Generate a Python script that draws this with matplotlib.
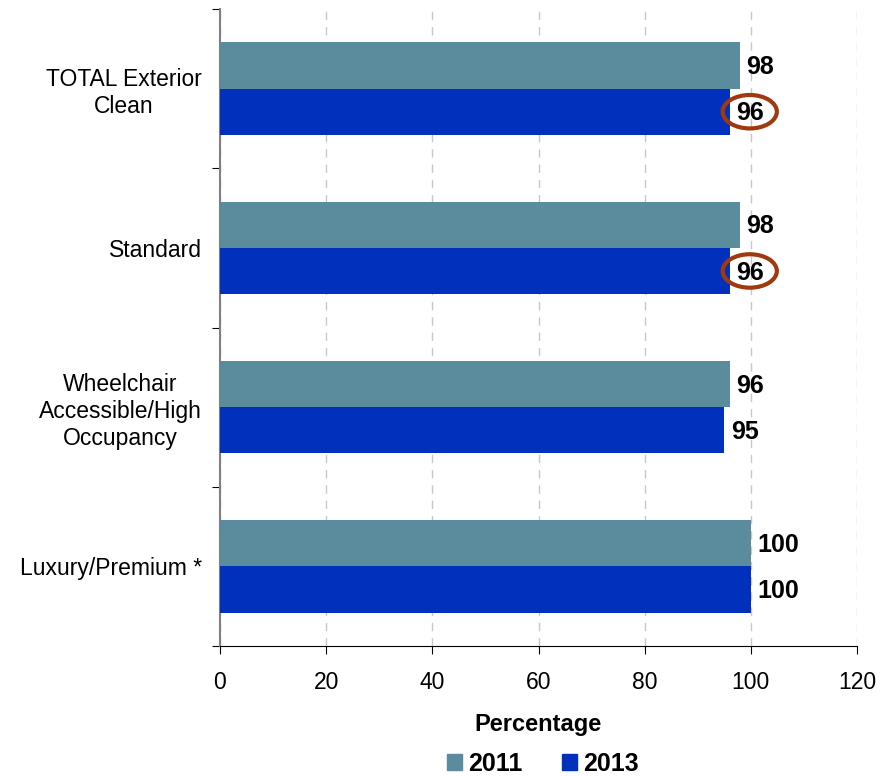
import matplotlib
matplotlib.use("Agg")
import matplotlib.pyplot as plt
from matplotlib.patches import Ellipse, Patch
import numpy as np

categories = ["TOTAL Exterior\nClean", "Standard", "Wheelchair\nAccessible/High\nOccupancy", "Luxury/Premium *"]
values_2011 = [98, 98, 96, 100]
values_2013 = [96, 96, 95, 100]
highlighted_2013 = [True, True, False, False]
series_labels = ["2011", "2013"]
xticks = [0, 20, 40, 60, 80, 100, 120]

color_2011 = "#5A8C9E"
color_2013 = "#0030BC"
ring_color = "#A0390E"

plt.rcParams["font.family"] = ["Liberation Sans", "DejaVu Sans"]

fig = plt.figure(figsize=(8.94, 7.76), dpi=100)
ax = fig.add_axes([220 / 894, 1 - 646 / 776, 637 / 894, 637 / 776])

n = len(categories)
ypos = np.arange(n)[::-1].astype(float)
h = 0.29

ax.barh(ypos + h / 2, values_2011, height=h, color=color_2011, zorder=3)
ax.barh(ypos - h / 2, values_2013, height=h, color=color_2013, zorder=3)

for y, v in zip(ypos, values_2011):
    ax.text(v + 1.2, y + h / 2 - 0.01, f"{v}", va="center", ha="left",
            fontsize=18, fontweight="bold", zorder=5)
for y, v, hl in zip(ypos, values_2013, highlighted_2013):
    ax.text(v + 1.2, y - h / 2 - 0.01, f"{v}", va="center", ha="left",
            fontsize=18, fontweight="bold", zorder=5)
    if hl:
        ax.add_patch(Ellipse((v + 3.8, y - h / 2), width=10.2, height=0.21,
                             fill=False, edgecolor=ring_color, lw=3, zorder=4))

ax.set_xlim(0, 120)
ax.set_ylim(-0.5, n - 0.5)
ax.set_xticks(xticks)
ax.set_xticklabels([str(t) for t in xticks], fontsize=16.5)
ax.set_xlabel("Percentage", fontsize=17, fontweight="bold", labelpad=14)

ax.set_yticks(np.arange(n + 1) - 0.5)
ax.set_yticklabels([])
ax.set_yticks(ypos, minor=True)
ax.set_yticklabels(categories, minor=True, fontsize=16.5, multialignment="center")
ax.tick_params(axis="y", which="minor", length=0, pad=13)
ax.tick_params(axis="y", which="major", length=6, direction="out", color="black")
ax.tick_params(axis="x", length=6, direction="out", pad=12)

ax.xaxis.grid(True, linestyle=(0, (6, 5)), color="#C8C8C8", lw=1, zorder=0)
for s in ["top", "right"]:
    ax.spines[s].set_visible(False)
ax.spines["left"].set_color("#808080")
ax.spines["left"].set_linewidth(1.5)
ax.spines["bottom"].set_color("black")

handles = [Patch(color=color_2011), Patch(color=color_2013)]
fig.legend(handles, series_labels, loc="center", bbox_to_anchor=(543 / 894, 1 - 764 / 776),
           ncol=2, frameon=False, prop={"size": 18, "weight": "bold"},
           handlelength=0.6, handleheight=0.6, handletextpad=0.25, columnspacing=1.6)

fig.savefig("out.png", dpi=100)
